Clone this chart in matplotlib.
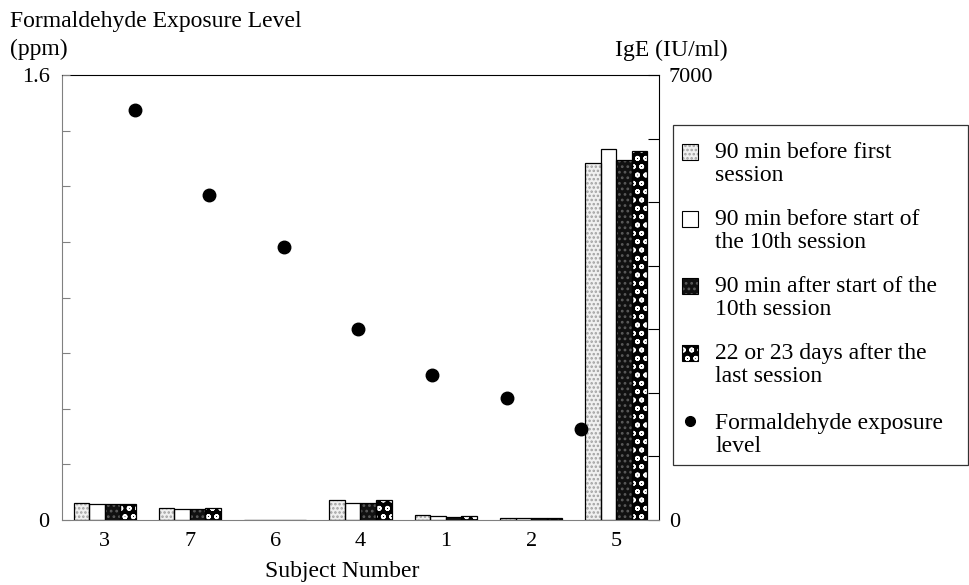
import numpy as np
import matplotlib
matplotlib.use("Agg")
import matplotlib.pyplot as plt
from matplotlib.patches import Rectangle
from matplotlib.lines import Line2D

plt.rcParams["font.family"] = ["Liberation Serif", "DejaVu Serif"]
plt.rcParams["hatch.linewidth"] = 1.2

# data
subjects = ["3", "7", "6", "4", "1", "2", "5"]
ige_before_first = [272, 188, 0, 314, 83, 25, 5620]
ige_before_10th = [251, 173, 0, 270, 63, 25, 5840]
ige_after_10th = [251, 173, 0, 262, 55, 25, 5665]
ige_after_last = [251, 193, 0, 314, 63, 25, 5805]
formaldehyde_ppm = [1.474, 1.170, 0.983, 0.685, 0.520, 0.438, 0.326]

labels = [
    "90 min before first\nsession",
    "90 min before start of\nthe 10th session",
    "90 min after start of the\n10th session",
    "22 or 23 days after the\nlast session",
    "Formaldehyde exposure\nlevel",
]
styles = [
    dict(face="#f0f0f0", hatch="....", hcol="#a0a0a0"),
    dict(face="white", hatch=None, hcol="white"),
    dict(face="#111111", hatch="...", hcol="#5a5a5a"),
    dict(face="black", hatch="oo", hcol="white"),
]

W, H = 970, 585


def fx(px):
    return px / W


def fy(py):
    return 1 - py / H


def main():
    fig = plt.figure(figsize=(W / 100, H / 100), dpi=100)
    rect = [fx(62), fy(520), (659 - 62) / W, (520 - 75) / H]

    # bars on the IgE scale (right axis)
    ax = fig.add_axes(rect)
    x = np.arange(len(subjects))
    w = 0.182
    series = [ige_before_first, ige_before_10th, ige_after_10th, ige_after_last]
    for k, (vals, st) in enumerate(zip(series, styles)):
        pos = x + (k - 1.5) * w
        ax.bar(pos, vals, w, color=st["face"], hatch=st["hatch"],
               edgecolor=st["hcol"], linewidth=0, zorder=2)
        ax.bar(pos, vals, w, fill=False, edgecolor="black", linewidth=0.9, zorder=3)
    ax.set_xlim(-0.5, len(subjects) - 0.5)
    ax.set_ylim(0, 7000)
    ax.set_xticks(x)
    ax.set_xticklabels(subjects, fontsize=16)
    ax.tick_params(axis="x", length=0, pad=9)
    ax.yaxis.tick_right()
    ax.set_yticks(np.arange(0, 7001, 1000))
    ax.set_yticklabels(["0", "", "", "", "", "", "", "7000"], fontsize=16)
    ax.tick_params(axis="y", direction="in", length=8, pad=7, right=True, left=False)
    ax.spines["top"].set_color("black")
    ax.spines["right"].set_color("black")
    ax.spines["left"].set_color("#808080")
    ax.spines["bottom"].set_color("#808080")

    # formaldehyde dots (left axis)
    ax2 = fig.add_axes(rect, frameon=False)
    ax2.plot(np.arange(len(formaldehyde_ppm)), formaldehyde_ppm, "o",
             color="black", ms=9, zorder=5)
    ax2.set_xlim(-0.976, 7.045)
    ax2.set_ylim(0, 1.6)
    ax2.set_xticks([])
    ax2.set_yticks(np.arange(0, 1.61, 0.2))
    ax2.set_yticklabels(["0", "", "", "", "", "", "", "", "1.6"], fontsize=16)
    ax2.tick_params(axis="y", direction="in", length=6, pad=9, color="#808080")

    fig.text(fx(10), fy(21), "Formaldehyde Exposure Level", fontsize=17, va="center")
    fig.text(fx(10), fy(49), "(ppm)", fontsize=17, va="center")
    fig.text(fx(615), fy(50), "IgE (IU/ml)", fontsize=17, va="center")
    fig.text(fx(342), fy(571), "Subject Number", fontsize=17,
             ha="center", va="center")

    # legend box drawn by hand so each key sits on its first text line
    fig.add_artist(Rectangle((fx(673), fy(465)), (968 - 673) / W, (465 - 125) / H,
                             transform=fig.transFigure, fill=False,
                             edgecolor="#333333", linewidth=0.9))
    rows = [152, 219, 286, 353, 423]
    sq = 16
    for i, (lab, yc) in enumerate(zip(labels, rows)):
        if i < 4:
            st = styles[i]
            fig.add_artist(Rectangle((fx(682), fy(yc + sq / 2)), sq / W, sq / H,
                                     transform=fig.transFigure, facecolor=st["face"],
                                     hatch=st["hatch"], edgecolor=st["hcol"], linewidth=0))
            fig.add_artist(Rectangle((fx(682), fy(yc + sq / 2)), sq / W, sq / H,
                                     transform=fig.transFigure, fill=False,
                                     edgecolor="black", linewidth=0.8))
        else:
            fig.add_artist(Line2D([fx(690)], [fy(yc - 2)], transform=fig.transFigure,
                                  ls="none", marker="o", color="black", ms=7))
        fig.text(fx(715), fy(yc - 10), lab, fontsize=17, va="top", linespacing=1.15)

    fig.savefig("out.png", dpi=100)


if __name__ == "__main__":
    main()
